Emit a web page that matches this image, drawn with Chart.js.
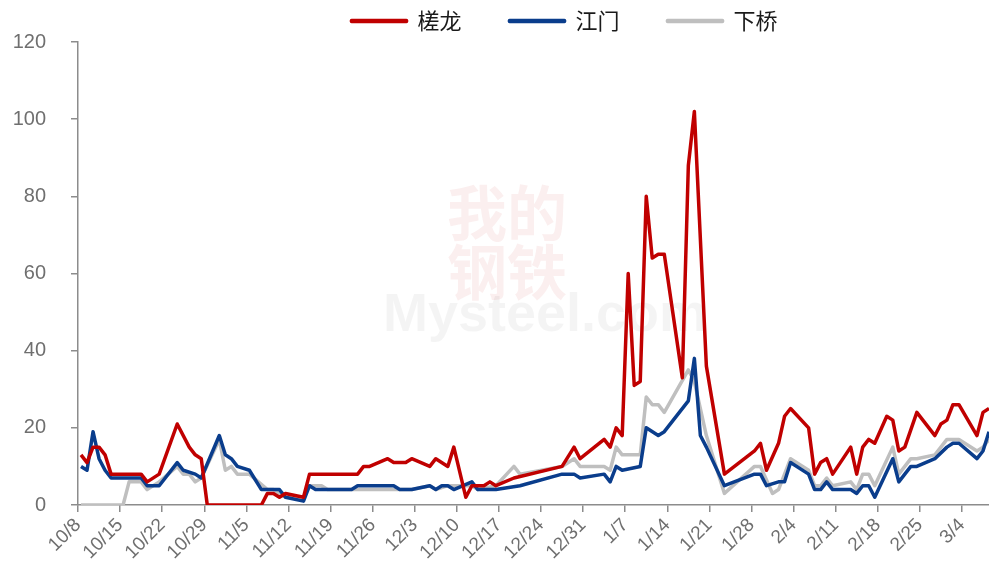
<!DOCTYPE html>
<html lang="zh">
<head>
    <meta charset="UTF-8">
    <title>槎龙 / 江门 / 下桥</title>
    <script src="https://cdn.jsdelivr.net/npm/chart.js"></script>
    <style>
        html, body {
            margin: 0;
            padding: 0;
            background: #fff;
        }
        #wrap {
            width: 989px;
            height: 571px;
        }
    </style>
</head>
<body>
    <div id="wrap"><canvas id="chart"></canvas></div>

    <script>
        // x axis tick labels (weekly)
        const tickLabels = ['10/8', '10/15', '10/22', '10/29', '11/5', '11/12', '11/19', '11/26',
            '12/3', '12/10', '12/17', '12/24', '12/31', '1/7', '1/14', '1/21', '1/28',
            '2/4', '2/11', '2/18', '2/25', '3/4'];

        // 槎龙
        const chulongDates = ['10/8', '10/9', '10/10', '10/11', '10/12', '10/13', '10/18', '10/19', '10/21', '10/24',
            '10/26', '10/27', '10/28', '10/29', '11/7', '11/8', '11/9', '11/10', '11/11', '11/14',
            '11/15', '11/23', '11/24', '11/25', '11/28', '11/29', '12/1', '12/2', '12/5', '12/6',
            '12/8', '12/9', '12/11', '12/12', '12/14', '12/15', '12/16', '12/19', '12/27', '12/29',
            '12/30', '1/3', '1/4', '1/5', '1/6', '1/7', '1/8', '1/9', '1/10', '1/11',
            '1/12', '1/13', '1/16', '1/17', '1/18', '1/20', '1/23', '1/28', '1/29', '1/30',
            '2/1', '2/2', '2/3', '2/6', '2/7', '2/8', '2/9', '2/10', '2/13', '2/14',
            '2/15', '2/16', '2/17', '2/19', '2/20', '2/21', '2/22', '2/24', '2/27', '2/28',
            '3/1', '3/2', '3/3', '3/6', '3/7', '3/8'];
        const chulongValues = [13, 11, 15, 15, 13, 8, 8, 6, 8, 21,
            15, 13, 12, 0, 0, 3, 3, 2, 3, 2,
            8, 8, 10, 10, 12, 11, 11, 12, 10, 12,
            10, 15, 2, 5, 5, 6, 5, 7, 10, 15,
            12, 17, 15, 20, 18, 60, 31, 32, 80, 64,
            65, 65, 33, 88, 102, 36, 8, 14, 16, 9,
            16, 23, 25, 20, 8, 11, 12, 8, 15, 8,
            15, 17, 16, 23, 22, 14, 15, 24, 18, 21,
            22, 26, 26, 18, 24, 25];

        // 江门
        const jiangmenDates = ['10/8', '10/9', '10/10', '10/11', '10/12', '10/13', '10/18', '10/19', '10/21', '10/24',
            '10/25', '10/27', '10/28', '10/31', '11/1', '11/2', '11/3', '11/5', '11/7', '11/10',
            '11/11', '11/14', '11/15', '11/16', '11/22', '11/23', '11/29', '11/30', '12/2', '12/5',
            '12/6', '12/7', '12/8', '12/9', '12/12', '12/13', '12/16', '12/20', '12/27', '12/29',
            '12/30', '1/3', '1/4', '1/5', '1/6', '1/9', '1/10', '1/12', '1/13', '1/17',
            '1/18', '1/19', '1/20', '1/23', '1/28', '1/29', '1/30', '2/1', '2/2', '2/3',
            '2/6', '2/7', '2/8', '2/9', '2/10', '2/13', '2/14', '2/15', '2/16', '2/17',
            '2/20', '2/21', '2/23', '2/24', '2/27', '3/1', '3/2', '3/3', '3/6', '3/7', '3/8'];
        const jiangmenValues = [10, 9, 19, 12, 9, 7, 7, 5, 5, 11,
            9, 8, 7, 18, 13, 12, 10, 9, 4, 4,
            2, 1, 5, 4, 4, 5, 5, 4, 4, 5,
            4, 5, 5, 4, 6, 4, 4, 5, 8, 8,
            7, 8, 6, 10, 9, 10, 20, 18, 19, 27,
            38, 18, 15, 5, 8, 8, 5, 6, 6, 11,
            8, 4, 4, 6, 4, 4, 3, 5, 5, 2,
            12, 6, 10, 10, 12, 15, 16, 16, 12, 14, 19];

        // 下桥
        const xiaqiaoDates = ['10/8', '10/15', '10/16', '10/18', '10/19', '10/21', '10/24', '10/25', '10/26', '10/27',
            '10/28', '10/31', '11/1', '11/2', '11/3', '11/5', '11/8', '11/9', '11/11', '11/14',
            '11/15', '11/17', '11/18', '12/2', '12/5', '12/6', '12/8', '12/12', '12/13', '12/16',
            '12/19', '12/20', '12/27', '12/29', '12/30', '1/3', '1/4', '1/5', '1/6', '1/9',
            '1/10', '1/11', '1/12', '1/13', '1/17', '1/18', '1/20', '1/23', '1/28', '1/29',
            '1/31', '2/1', '2/3', '2/6', '2/7', '2/8', '2/9', '2/10', '2/13', '2/14',
            '2/15', '2/16', '2/17', '2/20', '2/21', '2/23', '2/24', '2/27', '3/1', '3/3',
            '3/6', '3/7', '3/8'];
        const xiaqiaoValues = [0, 0, 6, 6, 4, 6, 10, 8, 8, 6,
            7, 17, 9, 10, 8, 8, 4, 4, 2, 2,
            5, 5, 4, 4, 5, 4, 5, 5, 4, 5,
            10, 8, 10, 12, 10, 10, 9, 15, 13, 13,
            28, 26, 26, 24, 35, 32, 18, 3, 10, 10,
            3, 4, 12, 9, 5, 5, 7, 5, 6, 4,
            8, 8, 5, 15, 8, 12, 12, 13, 17, 17,
            14, 15, 17];

        const yTicks = [0, 20, 40, 60, 80, 100, 120];

        // day count from 10/8 (2024) so that the x axis is a real date axis
        function dayIndex(md) {
            const [m, d] = md.split('/').map(Number);
            const y = m >= 10 ? 2024 : 2025;
            return Math.round((Date.UTC(y, m - 1, d) - Date.UTC(2024, 9, 8)) / 86400000);
        }

        function toPoints(dates, values) {
            return dates.map((md, i) => ({ x: dayIndex(md), y: values[i] }));
        }

        const axisGrey = '#8c8c8c';
        const textGrey = '#6f6f6f';

        // faint watermark behind the lines
        const watermark = {
            id: 'watermark',
            beforeDatasetsDraw(chart) {
                const ctx = chart.ctx;
                ctx.save();
                ctx.textAlign = 'center';
                ctx.textBaseline = 'middle';
                ctx.font = 'bold 60px "Noto Sans CJK SC"';
                ctx.fillStyle = 'rgba(200, 30, 30, 0.07)';
                ctx.fillText('我的', 507, 213);
                ctx.fillText('钢铁', 507, 272);
                ctx.font = 'bold 54px "Liberation Sans"';
                ctx.fillStyle = 'rgba(0, 0, 0, 0.045)';
                ctx.fillText('Mysteel.com', 545, 316);
                ctx.restore();
            }
        };

        // the legend sits a bit right of centre in the original
        const legendShift = {
            id: 'legendShift',
            afterLayout(chart) {
                chart.legend.left += 70;
                chart.legend.right += 70;
            }
        };

        new Chart(document.getElementById('chart'), {
            type: 'line',
            data: {
                datasets: [{
                    label: '槎龙',
                    data: toPoints(chulongDates, chulongValues),
                    borderColor: '#C00000',
                    backgroundColor: '#C00000',
                    borderWidth: 3.5
                }, {
                    label: '江门',
                    data: toPoints(jiangmenDates, jiangmenValues),
                    borderColor: '#0A3D8C',
                    backgroundColor: '#0A3D8C',
                    borderWidth: 3.5
                }, {
                    label: '下桥',
                    data: toPoints(xiaqiaoDates, xiaqiaoValues),
                    borderColor: '#BFBFBF',
                    backgroundColor: '#BFBFBF',
                    borderWidth: 3.5
                }]
            },
            options: {
                responsive: true,
                maintainAspectRatio: false,
                animation: false,
                elements: {
                    point: { radius: 0 },
                    line: { tension: 0, borderJoinStyle: 'round' }
                },
                layout: {
                    // legend padding is wide for the item spacing, pull it back up
                    padding: { top: -38, right: 0, bottom: 0, left: 0 }
                },
                plugins: {
                    legend: {
                        position: 'top',
                        labels: {
                            boxWidth: 55,
                            boxHeight: 1,
                            padding: 48,
                            color: '#1a1a1a',
                            font: { family: '"Noto Sans CJK SC"', size: 22 }
                        }
                    },
                    tooltip: { enabled: false }
                },
                scales: {
                    x: {
                        type: 'linear',
                        min: -0.5,
                        max: 151,
                        afterBuildTicks: scale => {
                            scale.ticks = tickLabels.map(l => ({ value: dayIndex(l) - 0.5 }));
                        },
                        afterFit: scale => { scale.height = 66; },
                        ticks: {
                            autoSkip: false,
                            maxRotation: 45,
                            minRotation: 45,
                            padding: 2,
                            color: textGrey,
                            font: { family: '"Liberation Sans"', size: 19 },
                            callback: (value) => {
                                const hit = tickLabels.find(l => dayIndex(l) - 0.5 === value);
                                return hit || '';
                            }
                        },
                        grid: {
                            display: true,
                            drawOnChartArea: false,
                            drawTicks: true,
                            tickLength: 7,
                            color: axisGrey,
                            lineWidth: 1.5
                        },
                        border: { display: true, color: axisGrey, width: 1.5 }
                    },
                    y: {
                        min: 0,
                        max: 120,
                        afterBuildTicks: scale => {
                            scale.ticks = yTicks.map(v => ({ value: v }));
                        },
                        afterFit: scale => { scale.width = 78; },
                        ticks: {
                            padding: 25,
                            color: textGrey,
                            font: { family: '"Liberation Sans"', size: 20 }
                        },
                        grid: {
                            display: true,
                            drawOnChartArea: false,
                            drawTicks: true,
                            tickLength: 7,
                            color: axisGrey,
                            lineWidth: 1.5
                        },
                        border: { display: true, color: axisGrey, width: 1.5 }
                    }
                }
            },
            plugins: [watermark, legendShift]
        });
    </script>
</body>
</html>
